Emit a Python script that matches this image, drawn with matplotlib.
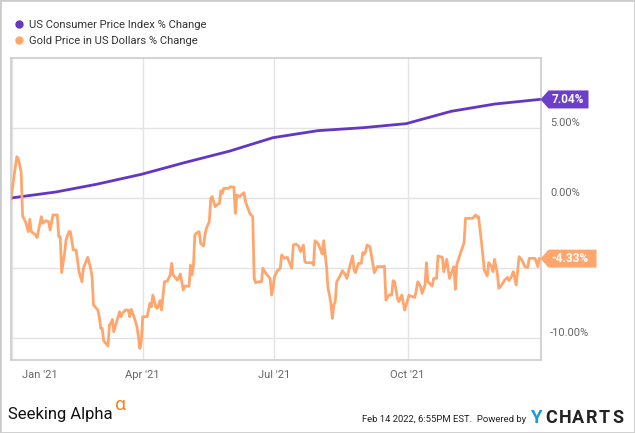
import matplotlib
matplotlib.use("Agg")
import matplotlib.pyplot as plt
import matplotlib.transforms as mtransforms
from matplotlib.lines import Line2D
from matplotlib.patches import Polygon, Rectangle
import pandas as pd

# US CPI, cumulative % change since Dec 2020 (monthly, month end)
cpi_dates = ["2020-12-31", "2021-01-31", "2021-02-28", "2021-03-31", "2021-04-30",
             "2021-05-31", "2021-06-30", "2021-07-31", "2021-08-31", "2021-09-30",
             "2021-10-31", "2021-11-30", "2021-12-31"]
cpi_pct = [0.0, 0.43, 0.98, 1.69, 2.53, 3.35, 4.31, 4.81, 5.02, 5.31, 6.19, 6.71, 7.04]

# gold price, % change (days after 2020-12-31)
gold_day = [0, 4, 5, 7, 8, 10, 12, 13, 14, 17, 18, 20, 21, 22, 24, 26, 27, 29, 32, 33,
            34, 35, 37, 38, 40, 41, 43, 45, 47, 49, 50, 53, 55, 56, 57, 58, 60, 61, 62, 63,
            64, 67, 68, 69, 70, 71, 73, 75, 76, 77, 79, 81, 82, 83, 85, 87, 88, 89, 90, 91,
            94, 96, 97, 98, 100, 101, 103, 104, 106, 108, 110, 111, 112, 115, 117, 119, 120, 123, 124, 125,
            126, 127, 128, 130, 131, 133, 134, 135, 137, 138, 139, 141, 142, 144, 145, 146, 147, 150, 152, 154,
            155, 156, 158, 159, 161, 162, 164, 165, 167, 168, 169, 171, 173, 174, 176, 177, 179, 180, 181, 182,
            184, 186, 187, 189, 191, 193, 194, 195, 197, 199, 200, 202, 203, 204, 208, 209, 210, 212, 214, 215,
            216, 218, 219, 220, 221, 222, 223, 224, 225, 227, 229, 231, 232, 234, 236, 237, 238, 240, 242, 243,
            244, 245, 246, 248, 251, 253, 257, 258, 259, 261, 263, 264, 265, 267, 268, 269, 270, 272, 273, 275,
            276, 279, 280, 281, 283, 284, 286, 287, 288, 291, 292, 294, 295, 298, 299, 301, 303, 305, 306, 307,
            308, 310, 313, 314, 319, 321, 322, 323, 325, 327, 329, 330, 332, 333, 334, 336, 337, 339, 341, 343,
            344, 346, 347, 349, 351, 353, 355, 357, 358, 362, 364, 365]
gold_pct = [0.0, 2.95, 2.83, 1.88, -1.29, -1.69, -2.4, -1.52, -2.4, -2.64, -2.83, -1.81, -1.33, -1.81, -1.62, -1.69, -2.29, -1.21, -1.21, -2.76,
            -2.76, -5.33, -3.95, -3.0, -2.4, -2.4, -3.71, -3.71, -5.26, -5.98, -5.02, -4.24, -5.02, -5.62, -7.64, -7.76, -8.0, -8.48, -9.31, -9.31,
            -10.19, -10.57, -9.07, -8.95, -8.67, -9.55, -8.83, -8.12, -8.48, -8.24, -8.0, -8.0, -8.48, -7.95, -8.48, -9.19, -9.9, -10.74, -10.26, -8.48,
            -8.48, -7.52, -7.76, -6.93, -7.76, -7.88, -7.33, -8.0, -5.98, -5.93, -5.5, -4.67, -5.5, -5.86, -5.43, -6.57, -6.29, -6.31, -4.79, -5.5,
            -4.9, -2.64, -2.52, -2.4, -3.24, -3.43, -2.64, -2.17, -1.69, -0.02, 0.1, -0.62, -0.5, -0.38, 0.52, 0.33, 0.69, 0.69, 0.81, 0.77,
            -1.1, 0.21, 0.1, 0.21, 0.38, -0.26, -0.81, -1.1, -1.33, -5.74, -6.05, -5.98, -5.98, -5.02, -5.38, -5.5, -5.74, -6.93, -6.45, -5.62,
            -5.2, -5.02, -4.07, -4.31, -4.24, -4.79, -5.02, -3.36, -3.29, -3.48, -3.83, -3.36, -4.55, -4.62, -4.62, -4.79, -3.05, -3.24, -3.71, -4.0,
            -3.05, -4.9, -6.45, -6.93, -7.52, -8.6, -7.64, -7.4, -5.98, -5.62, -5.19, -5.5, -5.74, -4.9, -4.14, -5.14, -5.33, -4.67, -4.67, -3.9,
            -4.0, -3.83, -3.36, -3.48, -5.33, -4.9, -4.9, -4.86, -7.29, -6.93, -6.93, -5.9, -5.98, -7.17, -7.4, -7.17, -6.93, -8.0, -7.64, -6.93,
            -7.0, -7.1, -6.57, -5.98, -6.33, -6.81, -6.21, -4.62, -5.98, -6.29, -5.74, -5.74, -4.14, -4.24, -5.26, -4.38, -5.74, -5.14, -4.9, -6.52,
            -4.75, -4.1, -3.19, -1.45, -1.45, -1.21, -1.38, -1.33, -3.12, -5.14, -5.57, -4.62, -4.9, -5.26, -4.38, -5.38, -6.45, -6.21, -5.86, -5.67,
            -5.9, -5.57, -5.26, -6.21, -4.19, -4.43, -4.9, -4.96, -4.31, -4.31, -4.9, -4.33]

xtick_dates = ["2021-01-01", "2021-04-01", "2021-07-01", "2021-10-01"]
xtick_labels = ["Jan '21", "Apr '21", "Jul '21", "Oct '21"]
ytick_vals = [5, 0, -5, -10]
ytick_labels = ["5.00%", "0.00%", "", "-10.00%"]

names = ["US Consumer Price Index % Change", "Gold Price in US Dollars % Change"]
purple = "#6336c6"
purple_tag = "#6b3fca"
orange = "#ffa66e"

plt.rcParams["font.family"] = ["Roboto", "DejaVu Sans"]

base = pd.Timestamp("2020-12-31")
cpi_x = pd.to_datetime(cpi_dates)
gold_x = base + pd.to_timedelta(gold_day, unit="D")

fig = plt.figure(figsize=(6.35, 4.33), dpi=100)
ax = fig.add_axes([11 / 635, 1 - 360 / 433, 529.5 / 635, 302 / 433])

ax.plot(cpi_x, cpi_pct, color=purple, lw=2, zorder=3)
ax.plot(gold_x, gold_pct, color=orange, lw=2, zorder=4)

ax.set_xlim(base, base + pd.Timedelta(days=365.8))
ax.set_ylim(-11.57, 10.0)

ax.set_xticks(pd.to_datetime(xtick_dates))
ax.set_xticklabels(xtick_labels)
ax.set_yticks(ytick_vals)
ax.set_yticklabels(ytick_labels)
ax.yaxis.tick_right()
ax.tick_params(axis="both", length=0, labelsize=8, labelcolor="#666666")
ax.tick_params(axis="x", pad=7)
ax.tick_params(axis="y", pad=7)
for lab in ax.get_yticklabels():
    lab.set_verticalalignment("bottom")
xl = ax.get_xticklabels()
xl[0].set_horizontalalignment("left")
xl[0].set_transform(xl[0].get_transform() + mtransforms.ScaledTranslation(7 / 72, 0, fig.dpi_scale_trans))

ax.grid(True, color="#e3e3e3", lw=1)
ax.set_axisbelow(True)
for sp in ax.spines.values():
    sp.set_color("#cccccc")
    sp.set_linewidth(1.2)

# value tags at the right edge
ax_w = 529.5
ax_h = 302
ppx = 21.57 / ax_h  # data units per pixel
blend = mtransforms.blended_transform_factory(ax.transAxes, ax.transData)
for val, col, width in [(cpi_pct[-1], purple_tag, 48), (gold_pct[-1], orange, 56)]:
    tip = 8 / ax_w
    w = width / ax_w
    h = 9 * ppx
    verts = [(1, val), (1 + tip, val + h), (1 + w, val + h), (1 + w, val - h), (1 + tip, val - h)]
    ax.add_patch(Polygon(verts, closed=True, transform=blend, facecolor=col,
                         edgecolor="none", clip_on=False, zorder=5))
    ax.annotate(f"{val:.2f}%", xy=(1, val), xycoords=blend, xytext=(11, 0),
                textcoords="offset pixels", ha="left", va="center", color="white",
                fontsize=8.5, fontweight="bold", zorder=6, annotation_clip=False)

# legend
handles = [Line2D([], [], ls="none", marker="o", ms=5, color=purple),
           Line2D([], [], ls="none", marker="o", ms=5, color=orange)]
fig.legend(handles, names, loc="upper left", bbox_to_anchor=(14 / 635, 1 - 20 / 433),
           frameon=False, fontsize=8.1, labelcolor="#333333", handlelength=0.8,
           handletextpad=0.5, labelspacing=0.5, borderaxespad=0, borderpad=0)

# footer
fig.text(8 / 635, 1 - 415 / 433, "Seeking Alpha", fontsize=12, color="#111111",
         ha="left", va="center")
fig.text(115 / 635, 1 - 405 / 433, "\u03b1", fontsize=14, color="#f58220",
         ha="left", va="center")
fig.text(526 / 635, 1 - 420 / 433, "Feb 14 2022, 6:55PM EST.  Powered by", fontsize=6.8,
         color="#222222", ha="right", va="center")
fig.text(530 / 635, 1 - 418 / 433, "Y", fontsize=13.5, fontweight="bold", color="#1b9ad6",
         ha="left", va="center")
for i, ch in enumerate("CHARTS"):
    fig.text((545 + i * 13.5) / 635, 1 - 418 / 433, ch, fontsize=13, fontweight="bold",
             color="#222222", ha="left", va="center")

fig.patches.append(Rectangle((0, 0), 1, 1, transform=fig.transFigure, fill=False,
                             edgecolor="#cccccc", lw=2))

fig.savefig("out.png", dpi=100)
